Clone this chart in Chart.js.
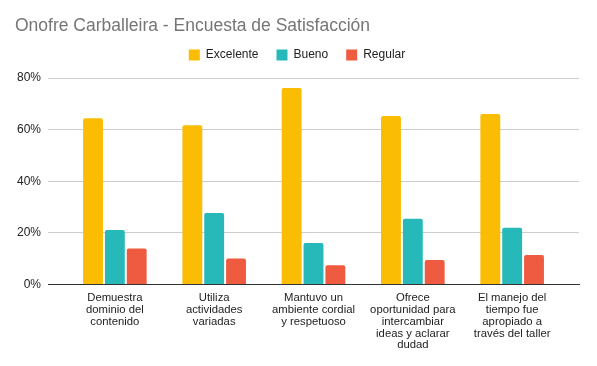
<!DOCTYPE html>
<html>
<head>
<meta charset="utf-8">
<script src="https://cdn.jsdelivr.net/npm/chart.js@4"></script>
<style>
  html, body { margin: 0; padding: 0; background: #fff; }
  #wrap { width: 597px; height: 366px; position: relative; }
</style>
</head>
<body>
<div id="wrap"><canvas id="surveyChart"></canvas></div>
<script>
const categories = [
    ['Demuestra', 'dominio del', 'contenido'],
    ['Utiliza', 'actividades', 'variadas'],
    ['Mantuvo un', 'ambiente cordial', 'y respetuoso'],
    ['Ofrece', 'oportunidad para', 'intercambiar', 'ideas y aclarar', 'dudad'],
    ['El manejo del', 'tiempo fue', 'apropiado a', 'través del taller']
];
const excelente = [64.4, 61.7, 76.1, 65.3, 66.1];
const bueno = [21.1, 27.7, 16.1, 25.5, 22.0];
const regular = [14.0, 10.1, 7.5, 9.5, 11.4];
const yTicks = [0, 20, 40, 60, 80];

document.addEventListener('DOMContentLoaded', function() {
    const ctx = document.getElementById('surveyChart').getContext('2d');
    const FONT = 'Liberation Sans, Arial, Helvetica, sans-serif';

    // extra room under the legend
    const legendGap = {
        id: 'legendGap',
        beforeInit(chart) {
            const fit = chart.legend.fit;
            chart.legend.fit = function() {
                fit.bind(chart.legend)();
                this.height += 7;
            };
        }
    };

    new Chart(ctx, {
        type: 'bar',
        data: {
            labels: categories,
            datasets: [
                { label: 'Excelente', data: excelente, backgroundColor: '#FBBC04' },
                { label: 'Bueno', data: bueno, backgroundColor: '#27B9B9' },
                { label: 'Regular', data: regular, backgroundColor: '#EF5B40' }
            ]
        },
        plugins: [legendGap],
        options: {
            responsive: true,
            maintainAspectRatio: false,
            animation: false,
            layout: { padding: { left: 15, right: 18, top: 12, bottom: 7 } },
            datasets: {
                bar: {
                    categoryPercentage: 0.66,
                    barPercentage: 0.91,
                    borderRadius: { topLeft: 2, topRight: 2 },
                    borderSkipped: 'bottom'
                }
            },
            plugins: {
                title: {
                    display: true,
                    text: 'Onofre Carballeira - Encuesta de Satisfacción',
                    align: 'start',
                    color: '#757575',
                    font: { family: FONT, size: 17.5, weight: 'normal' },
                    padding: { top: 4, bottom: -6 }
                },
                legend: {
                    position: 'top',
                    labels: {
                        boxWidth: 11,
                        boxHeight: 11,
                        padding: 18,
                        color: '#222',
                        font: { family: FONT, size: 12 }
                    }
                },
                tooltip: { enabled: true }
            },
            scales: {
                y: {
                    min: 0,
                    max: 80,
                    afterBuildTicks: axis => { axis.ticks = yTicks.map(v => ({ value: v })); },
                    afterFit: axis => { axis.width -= 5; },
                    ticks: {
                        padding: 7,
                        color: '#222',
                        font: { family: FONT, size: 12 },
                        callback: v => v + '%'
                    },
                    border: { display: false },
                    grid: {
                        color: c => c.tick && c.tick.value === 0 ? '#333' : '#ccc',
                        lineWidth: 1,
                        drawTicks: false
                    }
                },
                x: {
                    // widen the axis range so gridlines run past the outer groups
                    afterBuildTicks: axis => {
                        axis._startValue = -0.673;
                        axis._valueRange = 5.346;
                    },
                    ticks: {
                        color: '#222',
                        font: { family: FONT, size: 11.3, lineHeight: 1.035 },
                        maxRotation: 0,
                        autoSkip: false,
                        padding: 8
                    },
                    border: { color: '#333' },
                    grid: { display: false, drawTicks: false }
                }
            }
        }
    });
});
</script>
</body>
</html>
